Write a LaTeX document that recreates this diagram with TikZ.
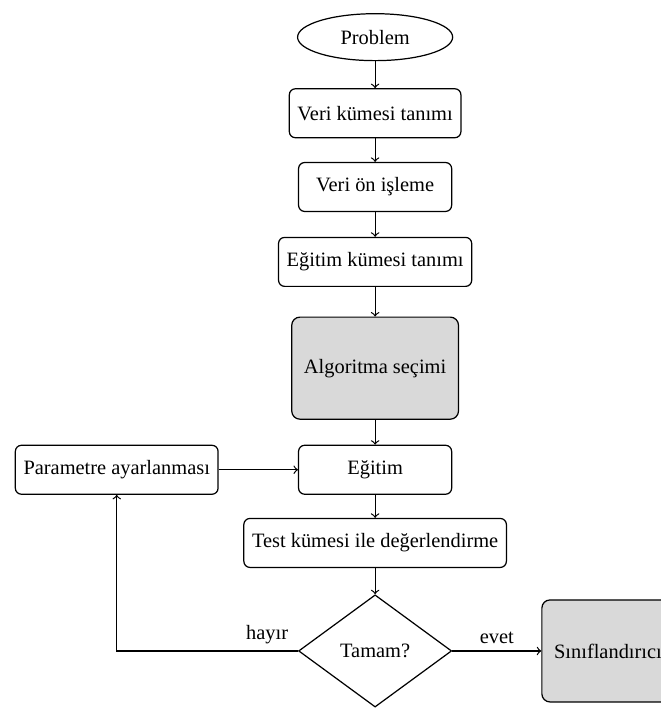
\documentclass[tikz,border=0pt]{standalone}
\usepackage{fontspec}
\setmainfont{Liberation Serif}
\usetikzlibrary{shapes.geometric}

\tikzset{
    startnode/.style={draw, semithick, ellipse, minimum width=76pt, minimum height=23pt, inner sep=1pt},
    stepbox/.style={draw, semithick, rectangle, rounded corners=3pt, minimum width=75pt, minimum height=24pt, inner xsep=4pt},
    keybox/.style={draw, semithick, rectangle, rounded corners=4pt, fill=black!15, minimum height=50pt, inner xsep=6pt},
    decision/.style={draw, semithick, diamond, minimum width=75pt, minimum height=55pt, inner sep=1pt},
    line/.style={draw, semithick, ->}
}

\begin{document}
\begin{tikzpicture}

    % Fix the page to the size of the reference
    \useasboundingbox (0,0) rectangle (11.37,-12.21);

    % Main column of the flow, centered at x = 6.46
    \node[startnode] (problem) at (6.46,-0.64) {Problem};
    \node[stepbox] (veri) at (6.46,-1.95) {Veri kümesi tanımı};
    \node[stepbox] (onisleme) at (6.46,-3.22) {Veri ön işleme};
    \node[stepbox] (egitimkume) at (6.46,-4.51) {Eğitim kümesi tanımı};
    \node[keybox] (algoritma) at (6.46,-6.34) {Algoritma seçimi};
    \node[stepbox] (egitim) at (6.46,-8.09) {Eğitim};
    \node[stepbox] (test) at (6.46,-9.35) {Test kümesi ile değerlendirme};
    \node[decision] (tamam) at (6.46,-11.21) {Tamam?};

    % Side nodes
    \node[stepbox] (parametre) at (2.01,-8.09) {Parametre ayarlanması};
    \node[keybox] (sinif) at (10.47,-11.21) {Sınıflandırıcı};

    % Corner of the feedback loop
    \coordinate (donus) at (2.01,-11.21);

    % Arrows down the column
    \draw[line] (problem) -- (veri);
    \draw[line] (veri) -- (onisleme);
    \draw[line] (onisleme) -- (egitimkume);
    \draw[line] (egitimkume) -- (algoritma);
    \draw[line] (algoritma) -- (egitim);
    \draw[line] (egitim) -- (test);
    \draw[line] (test) -- (tamam);

    % Decision branches
    \draw[line] (tamam) -- node[above] {evet} (sinif);
    \draw[line] (tamam.west) -- node[above, pos=0.17] {hayır} (donus) -- (parametre);
    \draw[line] (parametre) -- (egitim);

\end{tikzpicture}
\end{document}
